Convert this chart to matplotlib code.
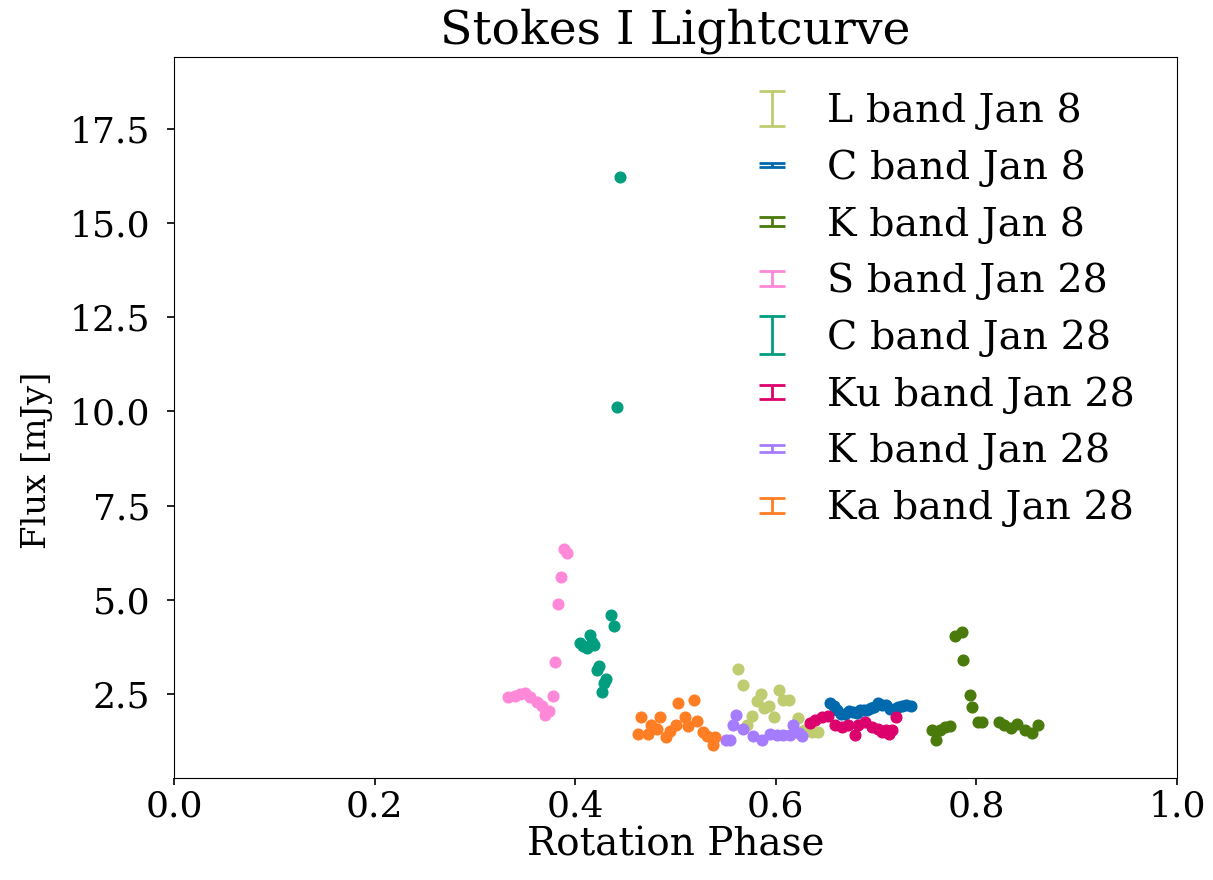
import numpy as np
import matplotlib
matplotlib.use("Agg")
import matplotlib.pyplot as plt
from matplotlib.legend_handler import HandlerErrorbar

plt.rcParams['font.family'] = ['DejaVu Serif']

# phase / flux pairs
l8_phase = [0.562, 0.567, 0.571, 0.576, 0.581, 0.585, 0.588, 0.5935, 0.598, 0.6035, 0.6075, 0.6135, 0.6225, 0.628, 0.6357, 0.642]
l8_flux = [3.17, 2.75, 1.67, 1.91, 2.32, 2.51, 2.14, 2.18, 1.88, 2.60, 2.34, 2.34, 1.86, 1.55, 1.50, 1.50]

c8_phase = [0.654, 0.658, 0.661, 0.665, 0.669, 0.673, 0.677, 0.681, 0.684, 0.688, 0.691, 0.695, 0.698, 0.702, 0.706, 0.710, 0.714, 0.718, 0.722, 0.726, 0.730, 0.735]
c8_flux = [2.25, 2.18, 2.07, 1.98, 1.98, 2.04, 2.02, 2.0, 2.07, 2.08, 2.07, 2.12, 2.16, 2.25, 2.22, 2.2, 2.1, 2.1, 2.15, 2.18, 2.2, 2.17]

k8_phase = [0.756, 0.760, 0.764, 0.769, 0.774, 0.779, 0.786, 0.787, 0.794, 0.796, 0.802, 0.806, 0.823, 0.828, 0.835, 0.841, 0.848, 0.855, 0.861]
k8_flux = [1.54, 1.27, 1.55, 1.62, 1.65, 4.03, 4.14, 3.40, 2.47, 2.15, 1.75, 1.76, 1.75, 1.67, 1.59, 1.70, 1.54, 1.46, 1.67]

s28_phase = [0.333, 0.340, 0.345, 0.350, 0.355, 0.3616, 0.3666, 0.370, 0.374, 0.3775, 0.3803, 0.383, 0.386, 0.389, 0.392]
s28_flux = [2.41, 2.44, 2.50, 2.53, 2.42, 2.29, 2.17, 1.95, 2.05, 2.44, 3.34, 4.90, 5.60, 6.35, 6.25]

c28_phase = [0.405, 0.408, 0.412, 0.415, 0.417, 0.419, 0.4214, 0.424, 0.4264, 0.4287, 0.431, 0.4357, 0.4387, 0.4417, 0.4447]
c28_flux = [3.85, 3.77, 3.72, 4.06, 3.88, 3.80, 3.13, 3.24, 2.56, 2.79, 2.89, 4.59, 4.30, 10.11, 16.22]

ku28_phase = [0.634, 0.639, 0.6457, 0.652, 0.659, 0.6657, 0.672, 0.679, 0.682, 0.689, 0.6955, 0.702, 0.706, 0.710, 0.713, 0.716, 0.720]
ku28_flux = [1.72, 1.80, 1.89, 1.91, 1.67, 1.63, 1.67, 1.41, 1.67, 1.76, 1.63, 1.58, 1.5, 1.55, 1.45, 1.55, 1.9]

k28_phase = [0.550, 0.554, 0.5577, 0.560, 0.5676, 0.5776, 0.586, 0.594, 0.601, 0.6075, 0.614, 0.6175, 0.6235, 0.626]
k28_flux = [1.27, 1.29, 1.67, 1.94, 1.58, 1.38, 1.27, 1.43, 1.41, 1.41, 1.41, 1.67, 1.47, 1.38]

ka28_phase = [0.463, 0.466, 0.473, 0.476, 0.482, 0.4845, 0.491, 0.4945, 0.5005, 0.503, 0.5095, 0.5128, 0.5184, 0.521, 0.527, 0.5318, 0.537, 0.539]
ka28_flux = [1.43, 1.88, 1.43, 1.67, 1.56, 1.89, 1.36, 1.52, 1.67, 2.27, 1.89, 1.65, 2.35, 1.79, 1.50, 1.38, 1.14, 1.36]

labels = ["L band Jan 8", "C band Jan 8", "K band Jan 8", "S band Jan 28",
          "C band Jan 28", "Ku band Jan 28", "K band Jan 28", "Ka band Jan 28"]
colors = ['#c0cc70', '#0068ad', '#4b7a0c', '#ff88d8',
          '#009e7e', '#dc006c', '#a67cff', '#ff7d23']
# half-height of the error bar drawn in the legend, in units of font size
legend_err = [0.44, 0.05, 0.12, 0.19, 0.49, 0.17, 0.09, 0.19]

phases = [l8_phase, c8_phase, k8_phase, s28_phase, c28_phase, ku28_phase, k28_phase, ka28_phase]
fluxes = [l8_flux, c8_flux, k8_flux, s28_flux, c28_flux, ku28_flux, k28_flux, ka28_flux]

fig = plt.figure(figsize=(12.13, 8.8), dpi=100)
ax = fig.add_axes([0.1434, 0.1159, 0.8269, 0.8193])

handles = []
hmap = {}
for ph, fl, lab, col, e in zip(phases, fluxes, labels, colors, legend_err):
    ax.plot(ph, fl, 'o', color=col, markersize=7.7, zorder=3)
    # legend proxy only (nothing visible on the axes)
    eb = ax.errorbar([np.nan], [np.nan], yerr=[0.1], fmt='none', ecolor=col,
                     elinewidth=2, capsize=9.6, capthick=2, label=lab)
    handles.append(eb)
    hmap[eb] = HandlerErrorbar(yerr_size=e)

ax.set_xlim(0, 1)
ax.set_ylim(0.27, 19.41)
ax.set_yticks([2.5, 5.0, 7.5, 10.0, 12.5, 15.0, 17.5])
ax.tick_params(labelsize=26, length=5, width=1.2)
ax.tick_params(axis='y', pad=12)
ax.set_xlabel("Rotation Phase", fontsize=28, labelpad=2)
ax.set_ylabel("Flux [mJy]", fontsize=24.5, y=0.44, labelpad=12)
ax.set_title("Stokes I Lightcurve", fontsize=34, pad=10)
ax.legend(handles=handles, handler_map=hmap, loc='upper right',
          bbox_to_anchor=(0.993, 1.0), fontsize=28.5, frameon=False,
          handlelength=1.6, handletextpad=0.58, labelspacing=0.485)

fig.savefig("out.png", dpi=100)
